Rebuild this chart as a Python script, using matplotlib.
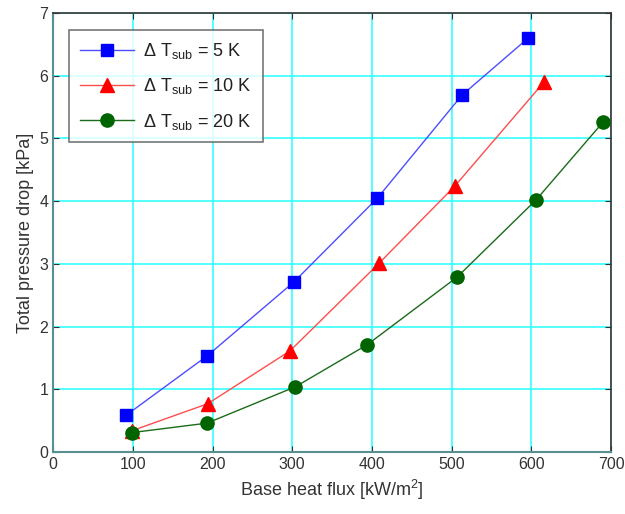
import matplotlib
matplotlib.use("Agg")
import matplotlib.pyplot as plt

plt.rcParams['font.family'] = ['Liberation Sans', 'DejaVu Sans']
plt.rcParams['mathtext.fontset'] = 'custom'
plt.rcParams['mathtext.rm'] = 'Liberation Sans'
plt.rcParams['mathtext.it'] = 'Liberation Sans:italic'

x5 = [92, 193, 302, 407, 513, 596]
y5 = [0.59, 1.53, 2.71, 4.05, 5.69, 6.60]
x10 = [99, 194, 297, 409, 504, 616]
y10 = [0.34, 0.77, 1.61, 3.01, 4.24, 5.90]
x20 = [99, 193, 304, 394, 507, 606, 690]
y20 = [0.31, 0.46, 1.04, 1.71, 2.79, 4.02, 5.26]

labels = [r'$\Delta$ T$_{\mathrm{sub}}$ = 5 K',
          r'$\Delta$ T$_{\mathrm{sub}}$ = 10 K',
          r'$\Delta$ T$_{\mathrm{sub}}$ = 20 K']

fig = plt.figure(figsize=(6.25, 5.14), dpi=100)
ax = fig.add_axes([0.085, 0.1206, 0.8926, 0.8541])

ax.plot(x5, y5, '-', color='#4d4dff', lw=1, marker='s', ms=8.5,
        mfc='#0000ff', mec='#0000ff', label=labels[0], zorder=3)
ax.plot(x10, y10, '-', color='#ff4d4d', lw=1, marker='^', ms=10,
        mfc='#ff0000', mec='#ff0000', label=labels[1], zorder=3)
ax.plot(x20, y20, '-', color='#1a6b1a', lw=1, marker='o', ms=9.5,
        mfc='#006400', mec='#006400', label=labels[2], zorder=3)

ax.set_xlim(0, 700)
ax.set_ylim(0, 7)
ax.set_xticks(range(0, 701, 100))
ax.set_yticks(range(0, 8))
ax.grid(True, color='#33ffff', lw=1.2)
ax.set_axisbelow(True)
ax.tick_params(direction='in', top=True, right=True, labelsize=11.5,
               colors='#333333', length=4)
for s in ['left', 'bottom']:
    ax.spines[s].set_color('#5a8f8f')
    ax.spines[s].set_linewidth(1.5)
for s in ['top', 'right']:
    ax.spines[s].set_color('#333333')
    ax.spines[s].set_linewidth(1.2)

ax.set_xlabel(r'Base heat flux [kW/m$^{2}$]', fontsize=13, color='#333333')
ax.set_ylabel('Total pressure drop [kPa]', fontsize=13, color='#333333')

leg = ax.legend(loc='upper left', bbox_to_anchor=(0.029, 0.961), fontsize=13,
                frameon=True, fancybox=False, edgecolor='#555555',
                handlelength=3, borderpad=0.6, labelspacing=0.85,
                borderaxespad=0, handletextpad=0.5)
leg.get_frame().set_linewidth(1.2)
for t in leg.get_texts():
    t.set_color('#222222')

fig.savefig('out.png', dpi=100)
